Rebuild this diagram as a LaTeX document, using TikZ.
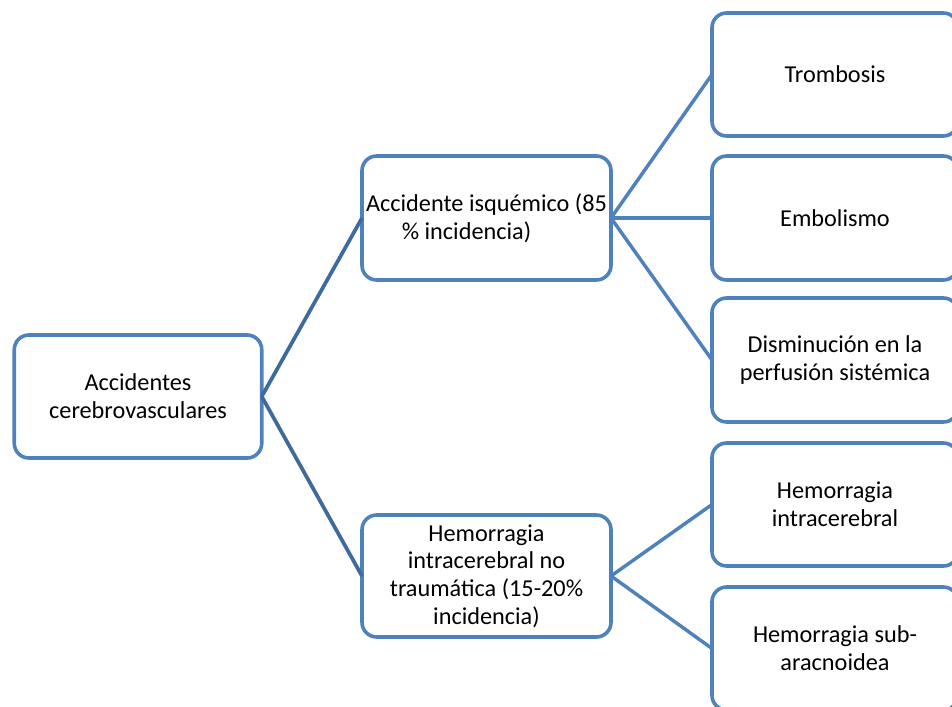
\documentclass[tikz,border=0pt]{standalone}
\usepackage{fontspec}
\setmainfont{Carlito}
\definecolor{boxblue}{HTML}{4F81BD}
\definecolor{darkblue}{HTML}{3F6A9E}
\begin{document}
\begin{tikzpicture}[x=0.75pt,y=-0.75pt,
  box/.style={draw=boxblue, line width=2.7pt, rounded corners=11pt, fill=white,
    align=center, inner sep=1pt, outer sep=0pt,
    font=\fontsize{18.2pt}{20.8pt}\selectfont},
  link/.style={draw=boxblue, line width=2.6pt},
  rootlink/.style={draw=darkblue, line width=2.8pt}]
\useasboundingbox (0,0) rectangle (952,706);
\clip (0,0) rectangle (952,706);
\node[box, minimum width=185.6pt, minimum height=92.25pt] (root) at (138,396.5) {Accidentes\\cerebrovasculares};
\node[box, minimum width=186.75pt, minimum height=93pt] (isq) at (486.5,218) {Accidente isquémico (85\\\% incidencia)\hspace*{30pt}};
\node[box, minimum width=186.75pt, minimum height=91.5pt] (hem) at (486.5,576) {Hemorragia\\intracerebral no\\traumática (15-20\%\\incidencia)};
\node[box, minimum width=184.5pt, minimum height=92.25pt] (tro) at (835,74.5) {Trombosis};
\node[box, minimum width=184.5pt, minimum height=93pt] (emb) at (835,218) {Embolismo};
\node[box, minimum width=184.5pt, minimum height=93pt] (dis) at (835,360) {Disminución en la\\perfusión sistémica};
\node[box, minimum width=184.5pt, minimum height=92.25pt] (hic) at (835,504.5) {Hemorragia\\intracerebral};
\node[box, minimum width=184.5pt, minimum height=92.25pt] (hsa) at (835,648.5) {Hemorragia sub-\\aracnoidea};
\draw[rootlink] (root.east) -- (isq.west);
\draw[rootlink] (root.east) -- (hem.west);
\draw[link] (isq.east) -- (tro.west);
\draw[link] (isq.east) -- (emb.west);
\draw[link] (isq.east) -- (dis.west);
\draw[link] (hem.east) -- (hic.west);
\draw[link] (hem.east) -- (hsa.west);
\end{tikzpicture}
\end{document}
